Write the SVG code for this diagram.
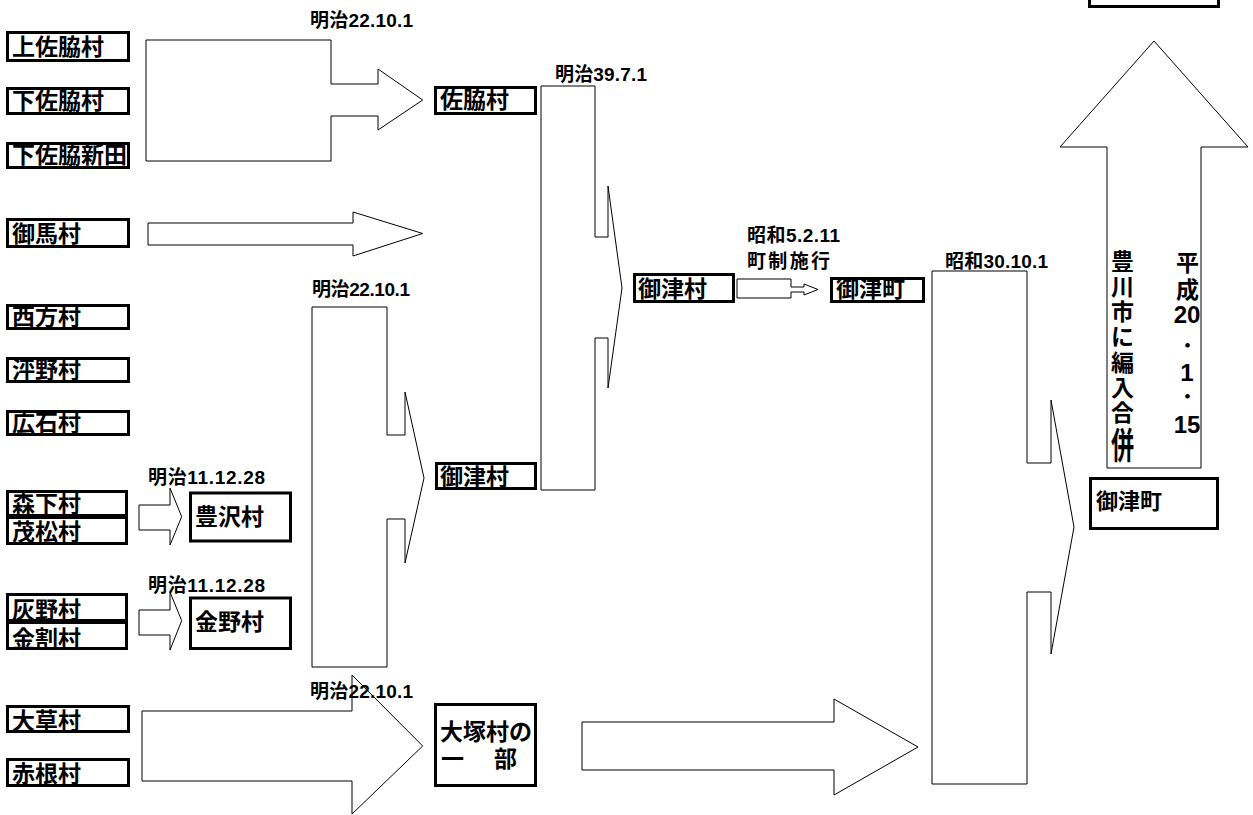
<svg xmlns="http://www.w3.org/2000/svg" width="1253" height="815" viewBox="0 0 1253 815">
<style>
text{font-family:"Liberation Sans","Noto Sans CJK JP",sans-serif;font-weight:bold;fill:#000}
.n{font-size:23px}
.m{font-size:22px}
.l{font-size:19px}
.v{font-size:23px;text-anchor:middle}
.t{font-size:18px;text-anchor:middle}
.d{font-size:24px;text-anchor:middle}
.b{fill:#fff;stroke:#000;stroke-width:3}
.a{fill:#fff;stroke:#000;stroke-width:1}
</style>
<rect width="1253" height="815" fill="#fff"/>
<g id="connectors">
<polygon class="a" points="146,40 331,40 331,84 378,84 378,69 422.7,100 378,130 378,116 331,116 331,161 146,161"/>
<polygon class="a" points="148,223 353,223 353,212 422.7,233.5 353,256 353,245 148,245"/>
<polygon class="a" points="312,307 387,307 387,435 405,435 405,392 424,478 405,563 405,519 387,519 387,667 312,667"/>
<polygon class="a" points="541,86 595,86 595,237 608,237 608,186 622,288 608,388 608,338 595,338 595,490 541,490"/>
<polygon class="a" points="737,279 791,279 791,287 804,287 804,284 818,289.5 804,295 804,292 791,292 791,298 737,298"/>
<polygon class="a" points="932,271 1027,271 1027,463 1051,463 1051,400 1074,527 1051,654 1051,592 1027,592 1027,784 932,784"/>
<polygon class="a" points="1107,468 1107,147 1060,147 1154,41 1248,147 1201,147 1201,468"/>
<polygon class="a" points="139,505 170,505 170,488 181.7,516.7 170,545 170,530 139,530"/>
<polygon class="a" points="139,610 170,610 170,592 181.7,620.7 170,650 170,635 139,635"/>
<polygon class="a" points="142,711 352,711 352,675 422.7,746 352,814 352,781 142,781"/>
<polygon class="a" points="582,722 834,722 834,699 918,747 834,795 834,770 582,770"/>
</g>
<g id="labels">
<text class="l" x="310" y="27" textLength="103" lengthAdjust="spacing">明治22.10.1</text>
<text class="l" x="555" y="81" textLength="92" lengthAdjust="spacing">明治39.7.1</text>
<text class="l" x="312" y="296" textLength="98" lengthAdjust="spacing">明治22.10.1</text>
<text class="l" x="747" y="242" textLength="93" lengthAdjust="spacing">昭和5.2.11</text>
<text class="l" x="747" y="268" textLength="83" lengthAdjust="spacing">町制施行</text>
<text class="l" x="945" y="268" textLength="103" lengthAdjust="spacing">昭和30.10.1</text>
<text class="l" x="148" y="484" textLength="117" lengthAdjust="spacing">明治11.12.28</text>
<text class="l" x="148" y="592" textLength="117" lengthAdjust="spacing">明治11.12.28</text>
<text class="l" x="310" y="698" textLength="103" lengthAdjust="spacing">明治22.10.1</text>
</g>
<g id="n-kamisawaki"><rect class="b" x="7.5" y="32.5" width="121" height="28"/><text class="n" x="12" y="55">上佐脇村</text></g>
<g id="n-shimosawaki"><rect class="b" x="7.5" y="88.5" width="121" height="25"/><text class="n" x="12" y="109">下佐脇村</text></g>
<g id="n-shimosawakishinden"><rect class="b" x="7.5" y="143.5" width="121" height="24"/><text class="n" x="12" y="163">下佐脇新田</text></g>
<g id="n-mma"><rect class="b" x="7.5" y="219.5" width="121" height="27"/><text class="n" x="12" y="242">御馬村</text></g>
<g id="n-nishikata"><rect class="b" x="7.5" y="305.5" width="121" height="23"/><text class="n" x="12" y="325">西方村</text></g>
<g id="n-tsubono"><rect class="b" x="7.5" y="358.5" width="121" height="23"/><text class="n" x="12" y="378">泙野村</text></g>
<g id="n-hiroishi"><rect class="b" x="7.5" y="411.5" width="121" height="23"/><text class="n" x="12" y="431">広石村</text></g>
<g id="n-morishita"><rect class="b" x="7.5" y="491.5" width="119" height="24"/><text class="n" x="12" y="512">森下村</text></g>
<g id="n-shigematsu"><rect class="b" x="7.5" y="517.5" width="119" height="26"/><text class="n" x="12" y="540">茂松村</text></g>
<g id="n-haino"><rect class="b" x="7.5" y="594.5" width="119" height="26"/><text class="n" x="12" y="618">灰野村</text></g>
<g id="n-kanewari"><rect class="b" x="7.5" y="622.5" width="119" height="26"/><text class="n" x="12" y="647">金割村</text></g>
<g id="n-toyosawa"><rect class="b" x="190.5" y="493" width="100" height="48"/><text class="n" x="195" y="525">豊沢村</text></g>
<g id="n-kaneno"><rect class="b" x="190.5" y="598" width="100" height="50.5"/><text class="n" x="195" y="630">金野村</text></g>
<g id="n-okusa"><rect class="b" x="7.5" y="706.5" width="121" height="25"/><text class="n" x="12" y="729">大草村</text></g>
<g id="n-akane"><rect class="b" x="7.5" y="759.5" width="121" height="26"/><text class="n" x="12" y="782">赤根村</text></g>
<g id="n-sawaki"><rect class="b" x="435.5" y="87.5" width="100" height="26"/><text class="n" x="440" y="108">佐脇村</text></g>
<g id="n-mitomura1"><rect class="b" x="436.5" y="463.5" width="99" height="25"/><text class="n" x="440" y="485">御津村</text></g>
<g id="n-otsuka"><rect class="b" x="435.5" y="704.5" width="100" height="81"/><text class="n" x="440" y="740">大塚村の</text><text class="n" x="441" y="767" textLength="76" lengthAdjust="spacing">一　部</text></g>
<g id="n-mitomura2"><rect class="b" x="634.5" y="274.5" width="99" height="27"/><text class="n" x="638" y="297">御津村</text></g>
<g id="n-mitocho1"><rect class="b" x="831.5" y="278.5" width="92" height="23"/><text class="n" x="836" y="297">御津町</text></g>
<g id="n-mitocho2"><rect class="b" x="1090.5" y="478.5" width="127" height="50"/><text class="m" x="1096" y="509">御津町</text></g>
<g id="n-toyokawa"><rect class="b" x="1089.5" y="-20" width="129" height="26.5"/></g>
<g id="uplabel">
<text class="v" x="1122.5" y="270">豊</text>
<text class="v" x="1122.5" y="295">川</text>
<text class="v" x="1122.5" y="320">市</text>
<text class="v" x="1122.5" y="345">に</text>
<text class="v" x="1122.5" y="371">編</text>
<text class="v" x="1122.5" y="396">入</text>
<text class="v" x="1122.5" y="421">合</text>
<text class="v" transform="translate(1122.5,459) scale(1,1.6)" x="0" y="0">併</text>
<text class="v" x="1187.5" y="271">平</text>
<text class="v" x="1187.5" y="298">成</text>
<text class="d" x="1187" y="323">20</text>
<text class="t" x="1187.5" y="352">・</text>
<text class="d" x="1187" y="381">1</text>
<text class="t" x="1187.5" y="403">・</text>
<text class="d" x="1187" y="433">15</text>
</g>
</svg>
